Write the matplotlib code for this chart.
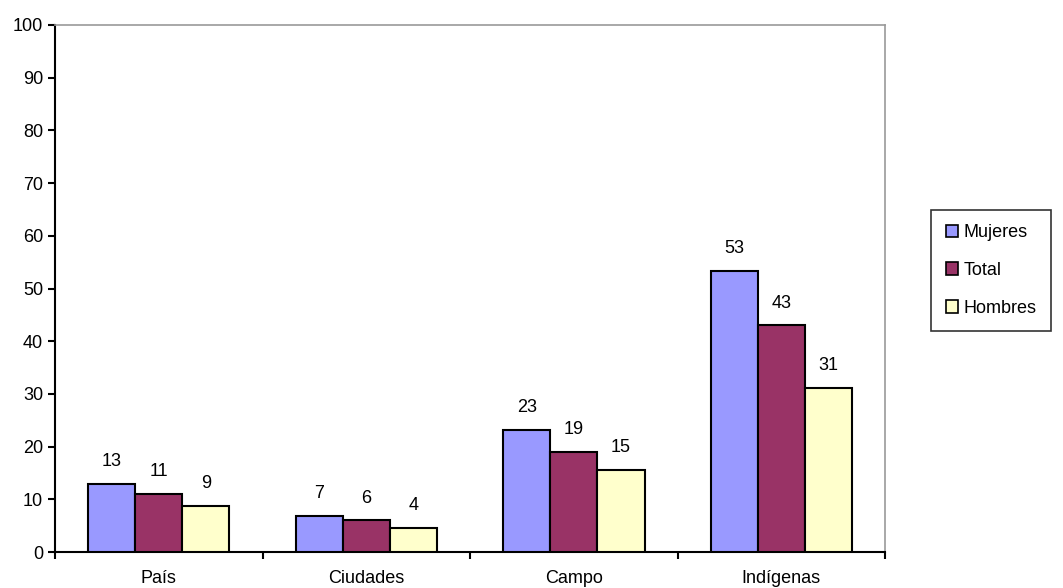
import numpy as np
import matplotlib.pyplot as plt

plt.rcParams['font.family'] = ['Liberation Sans', 'DejaVu Sans']

categories = ['País', 'Ciudades', 'Campo', 'Indígenas']
series = ['Mujeres', 'Total', 'Hombres']
mujeres = [12.9, 6.9, 23.1, 53.3]
total = [11.0, 6.0, 19.0, 43.0]
hombres = [8.7, 4.6, 15.5, 31.2]
lbl_mujeres = ['13', '7', '23', '53']
lbl_total = ['11', '6', '19', '43']
lbl_hombres = ['9', '4', '15', '31']
colors = ['#9999FF', '#993366', '#FFFFCC']

fig = plt.figure(figsize=(10.63, 5.88), dpi=100)
ax = fig.add_axes([0.0517, 0.0612, 0.781, 0.8963])

x = np.arange(len(categories))
w = 0.227
data = [mujeres, total, hombres]
labels = [lbl_mujeres, lbl_total, lbl_hombres]
for i, (vals, lbls) in enumerate(zip(data, labels)):
    xs = x + (i - 1) * w
    bars = ax.bar(xs, vals, w, color=colors[i], edgecolor='black', linewidth=1.5,
                  label=series[i], zorder=3)
    ax.bar_label(bars, labels=lbls, padding=10, fontsize=13)

ax.set_xlim(-0.5, 3.5)
ax.set_ylim(0, 100)
ax.set_yticks(np.arange(0, 101, 10))
ax.set_xticks(x)
ax.set_xticklabels(categories, fontsize=13)
ax.set_xticks(np.arange(-0.5, 3.6, 1), minor=True)
ax.tick_params(axis='x', which='major', length=0, pad=13)
ax.tick_params(axis='x', which='minor', length=5, width=1.5, direction='out')
ax.tick_params(axis='y', length=5, width=1.5, direction='out', labelsize=13)

for s in ['left', 'bottom']:
    ax.spines[s].set_color('black')
    ax.spines[s].set_linewidth(1.5)
for s in ['top', 'right']:
    ax.spines[s].set_color('#999999')
    ax.spines[s].set_linewidth(1.2)

leg = ax.legend(loc='upper left', bbox_to_anchor=(0.876, 0.643),
                bbox_transform=fig.transFigure, fontsize=13, frameon=True,
                fancybox=False, edgecolor='black', handlelength=0.7,
                handleheight=0.7, handletextpad=0.3, labelspacing=1.15,
                borderpad=0.8, borderaxespad=0)
leg.get_frame().set_linewidth(1.2)
for h in leg.legend_handles:
    h.set_linewidth(1.2)

fig.savefig('out.png', dpi=100)
